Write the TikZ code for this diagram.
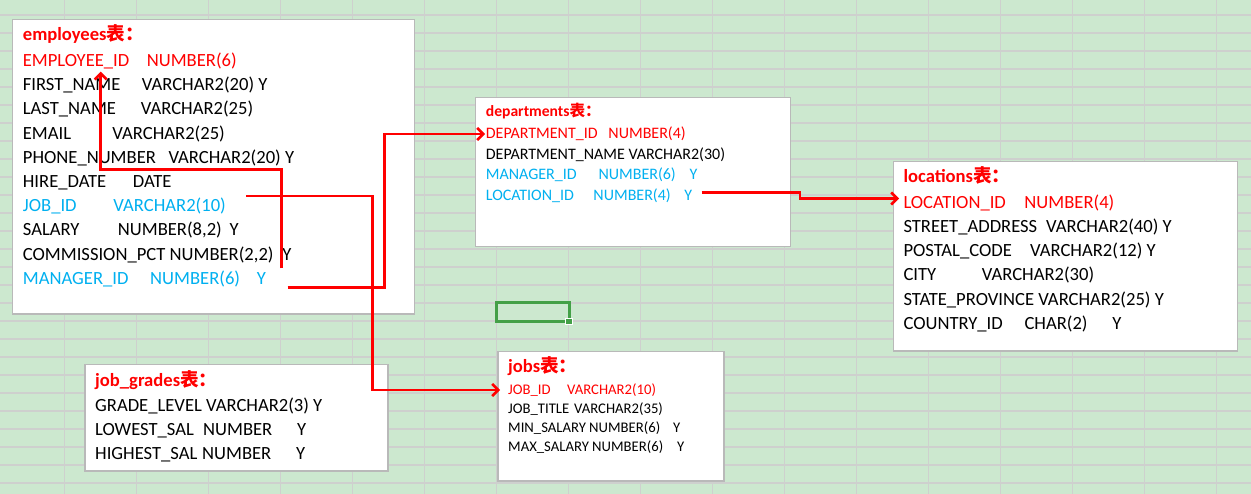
\documentclass[tikz,border=0pt]{standalone}
\usepackage{fontspec}
\setmainfont{Carlito}
\newfontfamily\cjk{Noto Sans CJK SC}
\usetikzlibrary{arrows.meta,calc}
\definecolor{sheetgreen}{RGB}{204,232,207}
\definecolor{gridgray}{RGB}{206,208,206}
\definecolor{boxgray}{RGB}{185,185,185}
\definecolor{keyred}{RGB}{255,0,0}
\definecolor{fkblue}{RGB}{0,176,240}
\definecolor{selgreen}{RGB}{67,160,71}
\tikzset{
    tablebox/.style={draw=boxgray,fill=white,line width=1.5pt},
    gridline/.style={gridgray,line width=1.3pt},
    tabletitle/.style={anchor=base west,inner sep=0pt,text=keyred,font=\fontsize{18.6}{20}\selectfont\bfseries},
    fieldrow/.style={anchor=base west,inner sep=0pt,font=\fontsize{18.6}{20}\selectfont},
    smallrow/.style={fieldrow,font=\fontsize{16}{18}\selectfont},
    tinyrow/.style={fieldrow,font=\fontsize{14.7}{16}\selectfont},
    pkrow/.style={text=keyred},
    fkrow/.style={text=fkblue},
    fkarrow/.style={->,keyred,line width=2.6pt}
}

\begin{document}
\begin{tikzpicture}[x=1pt,y=-1pt,>={Straight Barb[length=6pt,width=12pt]}]
    \useasboundingbox (0,0) rectangle (1251,494);
    % Sheet background
    \fill[sheetgreen] (0,0) rectangle (1251,494);
    \foreach \x in {0,...,16}
        \draw[gridline] ({64.3+72*\x},0) -- ++(0,494);
    \foreach \y in {0,...,26}
        \draw[gridline] (0,{15+18*\y}) -- ++(1251,0);
    % Selected cell
    \draw[selgreen,line width=3pt] (496,303) rectangle (569,322);
    \filldraw[fill=selgreen,draw=white,line width=1pt] (565.5,318.5) rectangle (572,325);

    % employees
    \draw[tablebox] (12.7,19.3) rectangle (414.7,314);
    \node[tabletitle] (emp-title) at (22.7,41) {employees{\cjk 表：}};
    \node[fieldrow,pkrow] (emp-id) at (22.7,66.5) {\makebox[124pt][l]{EMPLOYEE\_ID}NUMBER(6)};
    \node[fieldrow] (emp-first) at (22.7,90.7) {\makebox[119pt][l]{FIRST\_NAME}VARCHAR2(20) Y};
    \node[fieldrow] (emp-last) at (22.7,114.9) {\makebox[118pt][l]{LAST\_NAME}VARCHAR2(25)};
    \node[fieldrow] (emp-mail) at (22.7,139.1) {\makebox[89.6pt][l]{EMAIL}VARCHAR2(25)};
    \node[fieldrow] (emp-phone) at (22.7,163.3) {\makebox[145.6pt][l]{PHONE\_NUMBER}VARCHAR2(20) Y};
    \node[fieldrow] (emp-hire) at (22.7,187.5) {\makebox[110pt][l]{HIRE\_DATE}DATE};
    \node[fieldrow,fkrow] (emp-job) at (22.7,211.7) {\makebox[90.6pt][l]{JOB\_ID}VARCHAR2(10)};
    \node[fieldrow] (emp-sal) at (22.7,235.9) {\makebox[95pt][l]{SALARY}\makebox[111.6pt][l]{NUMBER(8,2)}Y};
    \node[fieldrow] (emp-comm) at (22.7,260.1) {COMMISSION\_PCT \makebox[112.7pt][l]{NUMBER(2,2)}Y};
    \node[fieldrow,fkrow] (emp-mgr) at (22.7,284.3) {\makebox[127.3pt][l]{MANAGER\_ID}\makebox[106.7pt][l]{NUMBER(6)}Y};

    % departments
    \draw[tablebox] (475.3,97.3) rectangle (790.7,246.7);
    \node[tabletitle,font=\fontsize{15.6}{18}\selectfont\bfseries] (dep-title) at (485.7,116.7) {departments{\cjk 表：}};
    \node[smallrow,pkrow] (dep-id) at (485.7,138.7) {\makebox[122.6pt][l]{DEPARTMENT\_ID}NUMBER(4)};
    \node[smallrow] (dep-name) at (485.7,159.3) {DEPARTMENT\_NAME VARCHAR2(30)};
    \node[smallrow,fkrow] (dep-mgr) at (485.7,179.8) {\makebox[112.6pt][l]{MANAGER\_ID}\makebox[91pt][l]{NUMBER(6)}Y};
    \node[smallrow,fkrow] (dep-loc) at (485.7,200.3) {\makebox[107.6pt][l]{LOCATION\_ID}\makebox[91pt][l]{NUMBER(4)}Y};

    % locations
    \draw[tablebox] (893.3,161.7) rectangle (1237.3,351);
    \node[tabletitle] (loc-title) at (903.3,182.7) {locations{\cjk 表：}};
    \node[fieldrow,pkrow] (loc-id) at (903.3,208.3) {\makebox[121pt][l]{LOCATION\_ID}NUMBER(4)};
    \node[fieldrow] (loc-street) at (903.3,232.5) {\makebox[142.7pt][l]{STREET\_ADDRESS}VARCHAR2(40) Y};
    \node[fieldrow] (loc-postal) at (903.3,256.7) {\makebox[126.7pt][l]{POSTAL\_CODE}VARCHAR2(12) Y};
    \node[fieldrow] (loc-city) at (903.3,280.9) {\makebox[78.4pt][l]{CITY}VARCHAR2(30)};
    \node[fieldrow] (loc-state) at (903.3,305.1) {STATE\_PROVINCE VARCHAR2(25) Y};
    \node[fieldrow] (loc-country) at (903.3,329.3) {\makebox[121pt][l]{COUNTRY\_ID}\makebox[88pt][l]{CHAR(2)}Y};

    % job_grades
    \draw[tablebox] (85,364.3) rectangle (388,471);
    \node[tabletitle] (grd-title) at (95,386.7) {job\_grades{\cjk 表：}};
    \node[fieldrow] (grd-level) at (95,411.5) {GRADE\_LEVEL VARCHAR2(3) Y};
    \node[fieldrow] (grd-low) at (95,435.7) {\makebox[108pt][l]{LOWEST\_SAL}\makebox[94pt][l]{NUMBER}Y};
    \node[fieldrow] (grd-high) at (95,459.9) {\makebox[107pt][l]{HIGHEST\_SAL}\makebox[94pt][l]{NUMBER}Y};

    % jobs
    \draw[tablebox] (498,351.7) rectangle (724,481);
    \node[tabletitle] (jobs-title) at (508,372.3) {jobs{\cjk 表：}};
    \node[tinyrow,pkrow] (jobs-id) at (508,394.3) {\makebox[59pt][l]{JOB\_ID}VARCHAR2(10)};
    \node[tinyrow] (jobs-title-col) at (508,413.4) {\makebox[66pt][l]{JOB\_TITLE}VARCHAR2(35)};
    \node[tinyrow] (jobs-min) at (508,432.5) {\makebox[81pt][l]{MIN\_SALARY}\makebox[84pt][l]{NUMBER(6)}Y};
    \node[tinyrow] (jobs-max) at (508,451.6) {\makebox[84pt][l]{MAX\_SALARY}\makebox[85pt][l]{NUMBER(6)}Y};

    % Foreign key links
    \coordinate (mgr-self) at (281.7,268.3);
    \coordinate (empid-in) at (100.7,71.7);
    \coordinate (job-out) at (246,196);
    \coordinate (jobs-in) at (500,390);
    \coordinate (mgr-out) at (287.7,287.3);
    \coordinate (dep-in) at (485,134);
    \coordinate (loc-out) at (701.7,192.3);
    \coordinate (loc-in) at (899,198.5);
    \draw[fkarrow] (mgr-self) -- ++(0,-99) -| (empid-in);
    \draw[fkarrow] (job-out) -- ++(126.7,0) |- (jobs-in);
    \draw[fkarrow] (mgr-out) -- ++(96.6,0) |- (dep-in);
    \draw[fkarrow] (loc-out) -- ++(98.3,0) |- (loc-in);
\end{tikzpicture}
\end{document}
